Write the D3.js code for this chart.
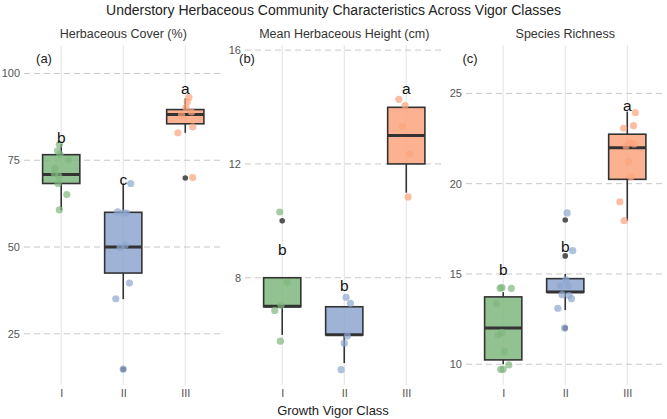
<!DOCTYPE html>
<html>
<head>
<meta charset="utf-8">
<script src="https://cdn.jsdelivr.net/npm/d3@7"></script>
<style>
  body { margin: 0; background: #fff; font-family: "Liberation Sans", Arial, sans-serif; }
  .tick text { fill: #555; font-size: 11px; }
</style>
</head>
<body>
<div id="chart"></div>
<script>
// ---- data ----
const classes = ["I", "II", "III"];
const classColors = ["#7fb77e", "#8da6cf", "#fca47e"];

const panelTitles = ["Herbaceous Cover (%)", "Mean Herbaceous Height (cm)", "Species Richness"];
const panelTags = ["(a)", "(b)", "(c)"];
const panelTicks = [[25, 50, 75, 100], [8, 12, 16], [10, 15, 20, 25]];
const panelDomains = [[10.25, 108.2], [4.23, 16.18], [8.85, 27.68]];

// box stats per panel per class: [whiskerLow, q1, median, q3, whiskerHigh]
const coverStats = [[60.6, 68.3, 70.9, 76.6, 79.7], [35.0, 42.5, 50.0, 60.0, 68.3], [82.9, 85.5, 88.2, 89.6, 92.8]];
const heightStats = [[5.99, 6.98, 7.0, 8.0, 8.0], [5.0, 5.99, 6.0, 6.98, 6.98], [10.99, 12.0, 13.0, 13.99, 13.99]];
const richnessStats = [[10.0, 10.24, 12.01, 13.73, 13.99], [13.0, 13.99, 14.0, 14.74, 15.0], [17.95, 20.24, 21.99, 22.74, 23.99]];

const coverOutliers = [[], [14.8], [69.9]];
const heightOutliers = [[10.0], [], []];
const richnessOutliers = [[], [17.99, 16.0, 12.0], []];

// jittered observations: [class index, jitter (class units), value]
const coverPoints = [
  [0, -0.03, 79.6], [0, -0.06, 77.7], [0, -0.02, 76.7], [0, 0.12, 75.1], [0, -0.1, 72.7],
  [0, -0.11, 71.2], [0, -0.04, 70.4], [0, -0.05, 68.3], [0, 0.09, 65.1], [0, -0.03, 60.7],
  [1, 0.12, 68.3], [1, -0.09, 60.1], [1, 0.0, 59.8], [1, 0.05, 59.8], [1, -0.05, 49.8],
  [1, 0.03, 50.5], [1, 0.1, 39.6], [1, -0.12, 35.1], [1, 0.0, 14.8],
  [2, 0.06, 93.1], [2, 0.03, 91.8], [2, 0.01, 90.2], [2, 0.1, 88.9], [2, -0.06, 88.0],
  [2, 0.12, 84.6], [2, -0.12, 82.9], [2, 0.12, 70.0]
];
const heightPoints = [
  [0, -0.04, 10.31], [0, 0.08, 7.84], [0, -0.02, 7.03], [0, -0.12, 6.85], [0, -0.03, 5.77],
  [1, 0.03, 7.31], [1, 0.1, 7.1], [1, 0.05, 5.95], [1, 0.0, 5.7], [1, -0.05, 4.77],
  [2, -0.12, 14.27], [2, -0.02, 14.05], [2, -0.06, 13.32], [2, 0.05, 12.34], [2, 0.03, 10.84]
];
const richnessPoints = [
  [0, -0.05, 14.21], [0, -0.02, 14.24], [0, 0.13, 14.2], [0, -0.11, 13.36], [0, -0.08, 11.62],
  [0, -0.02, 11.75], [0, 0.02, 10.7], [0, 0.09, 9.96], [0, -0.04, 9.72], [0, 0.0, 9.72],
  [1, 0.03, 18.38], [1, 0.12, 16.29], [1, 0.01, 14.67], [1, -0.08, 14.34], [1, 0.05, 14.34],
  [1, -0.05, 13.85], [1, 0.06, 13.8], [1, 0.1, 13.63], [1, -0.12, 13.1], [1, -0.01, 12.0],
  [2, 0.13, 23.93], [2, 0.1, 23.21], [2, -0.06, 23.07], [2, 0.04, 22.27], [2, 0.11, 22.2],
  [2, -0.02, 22.09], [2, 0.02, 21.22], [2, 0.06, 20.39], [2, -0.12, 19.0], [2, -0.05, 17.95]
];

// significance letters and their height
const coverLetters = [["b", 81.6], ["c", 69.5], ["a", 95.6]];
const heightLetters = [["b", 8.98], ["b", 7.74], ["a", 14.66]];
const richnessLetters = [["b", 15.22], ["b", 16.51], ["a", 24.3]];

const panels = [
  {stats: coverStats, outliers: coverOutliers, points: coverPoints, letters: coverLetters},
  {stats: heightStats, outliers: heightOutliers, points: heightPoints, letters: heightLetters},
  {stats: richnessStats, outliers: richnessOutliers, points: richnessPoints, letters: richnessLetters}
];

// ---- layout ----
const width = 667, height = 419;
const panelLeft = [24, 245, 466];
const panelWidth = 198.5;
const plotTop = 45, plotBottom = 385;
const tagOffset = [20, 2, 4];

const svg = d3.select("#chart").append("svg")
    .attr("width", width)
    .attr("height", height);

svg.append("text")
    .attr("x", width / 2)
    .attr("y", 15)
    .attr("text-anchor", "middle")
    .attr("font-size", 14)
    .attr("fill", "#222")
    .text("Understory Herbaceous Community Characteristics Across Vigor Classes");

svg.append("text")
    .attr("x", 333)
    .attr("y", 415)
    .attr("text-anchor", "middle")
    .attr("font-size", 13)
    .attr("fill", "#222")
    .text("Growth Vigor Class");

panels.forEach(function(p, i) {
    let g = svg.append("g")
        .attr("transform", "translate(" + panelLeft[i] + ",0)");

    let x = d3.scalePoint()
        .domain(classes)
        .range([0, panelWidth])
        .padding(0.6);
    let step = x.step();

    let y = d3.scaleLinear()
        .domain(panelDomains[i])
        .range([plotBottom, plotTop]);

    // panel title
    g.append("text")
        .attr("x", panelWidth / 2)
        .attr("y", 38)
        .attr("text-anchor", "middle")
        .attr("font-size", 12.5)
        .attr("fill", "#333")
        .text(panelTitles[i]);

    // vertical grid
    g.selectAll(".vgrid")
        .data(classes)
        .enter().append("line")
        .attr("class", "vgrid")
        .attr("x1", d => x(d)).attr("x2", d => x(d))
        .attr("y1", plotTop).attr("y2", plotBottom)
        .attr("stroke", "#e3e3e3")
        .attr("stroke-width", 1);

    // horizontal dashed grid
    g.selectAll(".hgrid")
        .data(panelTicks[i])
        .enter().append("line")
        .attr("class", "hgrid")
        .attr("x1", 0).attr("x2", panelWidth)
        .attr("y1", d => y(d)).attr("y2", d => y(d))
        .attr("stroke", "#c8c8c8")
        .attr("stroke-dasharray", "6,4")
        .attr("stroke-width", 1);

    // axes
    let yAxis = g.append("g")
        .call(d3.axisLeft(y).tickValues(panelTicks[i]).tickSize(0).tickPadding(4));
    yAxis.select(".domain").remove();

    let xAxis = g.append("g")
        .attr("transform", "translate(0," + plotBottom + ")")
        .call(d3.axisBottom(x).tickSize(0).tickPadding(4));
    xAxis.select(".domain").remove();
    xAxis.selectAll("text").attr("font-size", 11);

    // boxes
    let boxW = step * 0.6;
    let boxes = g.selectAll(".box")
        .data(p.stats)
        .enter().append("g")
        .attr("class", "box");

    boxes.append("line")
        .attr("x1", (d, j) => x(classes[j])).attr("x2", (d, j) => x(classes[j]))
        .attr("y1", d => y(d[0])).attr("y2", d => y(d[1]))
        .attr("stroke", "#333").attr("stroke-width", 1.6);
    boxes.append("line")
        .attr("x1", (d, j) => x(classes[j])).attr("x2", (d, j) => x(classes[j]))
        .attr("y1", d => y(d[3])).attr("y2", d => y(d[4]))
        .attr("stroke", "#333").attr("stroke-width", 1.6);
    boxes.append("rect")
        .attr("x", (d, j) => x(classes[j]) - boxW / 2)
        .attr("width", boxW)
        .attr("y", d => y(d[3]))
        .attr("height", d => y(d[1]) - y(d[3]))
        .attr("fill", (d, j) => classColors[j])
        .attr("fill-opacity", 0.85)
        .attr("stroke", "#333")
        .attr("stroke-width", 1.6);
    boxes.append("line")
        .attr("x1", (d, j) => x(classes[j]) - boxW / 2)
        .attr("x2", (d, j) => x(classes[j]) + boxW / 2)
        .attr("y1", d => y(d[2])).attr("y2", d => y(d[2]))
        .attr("stroke", "#333").attr("stroke-width", 3);

    // outliers
    let outs = [];
    p.outliers.forEach((arr, j) => arr.forEach(v => outs.push([j, v])));
    g.selectAll(".outlier")
        .data(outs)
        .enter().append("circle")
        .attr("class", "outlier")
        .attr("cx", d => x(classes[d[0]]))
        .attr("cy", d => y(d[1]))
        .attr("r", 2.8)
        .attr("fill", "#555");

    // jittered points
    g.selectAll(".pt")
        .data(p.points)
        .enter().append("circle")
        .attr("class", "pt")
        .attr("cx", d => x(classes[d[0]]) + d[1] * step)
        .attr("cy", d => y(d[2]))
        .attr("r", 3.6)
        .attr("fill", d => classColors[d[0]])
        .attr("fill-opacity", 0.7);

    // letters
    g.selectAll(".letter")
        .data(p.letters)
        .enter().append("text")
        .attr("class", "letter")
        .attr("x", (d, j) => x(classes[j]))
        .attr("y", d => y(d[1]))
        .attr("dy", "0.35em")
        .attr("text-anchor", "middle")
        .attr("font-size", 15.5)
        .attr("fill", "#111")
        .text(d => d[0]);

    // panel tag
    g.append("text")
        .attr("x", tagOffset[i])
        .attr("y", 58)
        .attr("dy", "0.35em")
        .attr("text-anchor", "middle")
        .attr("font-size", 13)
        .attr("fill", "#222")
        .text(panelTags[i]);
});
</script>
</body>
</html>
